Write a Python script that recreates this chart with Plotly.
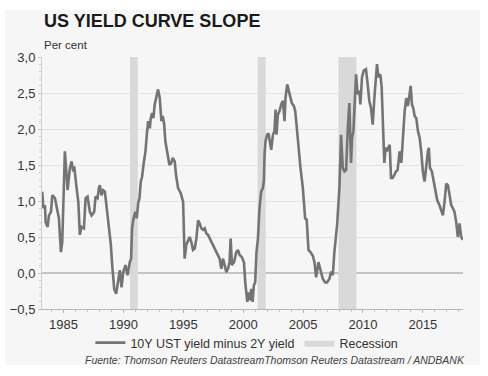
import plotly.graph_objects as go

# ---- data ----
dates = [
    1983.22, 1983.31, 1983.45, 1983.50, 1983.67, 1983.78, 1983.95, 1984.06, 1984.28, 1984.42,
    1984.61, 1984.78, 1984.89, 1985.11, 1985.34, 1985.53, 1985.67, 1985.81, 1985.89, 1986.09,
    1986.23, 1986.36, 1986.50, 1986.70, 1986.84, 1987.00, 1987.20, 1987.34, 1987.56, 1987.67,
    1987.84, 1987.95, 1988.03, 1988.17, 1988.31, 1988.45, 1988.59, 1988.78, 1988.95, 1989.06,
    1989.23, 1989.39, 1989.56, 1989.70, 1989.84, 1989.98, 1990.17, 1990.34, 1990.53, 1990.64,
    1990.72, 1990.84, 1991.00, 1991.11, 1991.23, 1991.34, 1991.45, 1991.56, 1991.67, 1991.84,
    1991.95, 1992.06, 1992.20, 1992.28, 1992.39, 1992.50, 1992.61, 1992.75, 1992.89, 1993.03,
    1993.17, 1993.28, 1993.39, 1993.50, 1993.67, 1993.84, 1994.00, 1994.11, 1994.28, 1994.39,
    1994.56, 1994.78, 1994.98, 1995.11, 1995.25, 1995.39, 1995.53, 1995.67, 1995.81, 1995.95,
    1996.09, 1996.23, 1996.36, 1996.50, 1996.64, 1996.78, 1996.92, 1997.06, 1997.20, 1997.39,
    1997.61, 1997.84, 1998.03, 1998.17, 1998.31, 1998.45, 1998.59, 1998.73, 1998.86, 1998.95,
    1999.06, 1999.23, 1999.42, 1999.56, 1999.70, 1999.89, 2000.06, 2000.17, 2000.34, 2000.45,
    2000.56, 2000.67, 2000.78, 2000.89, 2001.00, 2001.11, 2001.23, 2001.36, 2001.50, 2001.64,
    2001.72, 2001.78, 2001.86, 2002.00, 2002.11, 2002.22, 2002.34, 2002.48, 2002.61, 2002.70,
    2002.78, 2002.89, 2003.03, 2003.17, 2003.31, 2003.45, 2003.53, 2003.67, 2003.81, 2003.95,
    2004.06, 2004.23, 2004.34, 2004.50, 2004.61, 2004.78, 2004.98, 2005.17, 2005.30, 2005.45,
    2005.61, 2005.81, 2005.95, 2006.09, 2006.28, 2006.45, 2006.64, 2006.84, 2007.00, 2007.20,
    2007.34, 2007.48, 2007.61, 2007.84, 2008.03, 2008.17, 2008.31, 2008.45, 2008.59, 2008.73,
    2008.86, 2009.00, 2009.09, 2009.20, 2009.34, 2009.42, 2009.56, 2009.70, 2009.78, 2009.92,
    2010.06, 2010.25, 2010.39, 2010.53, 2010.67, 2010.81, 2010.95, 2011.09, 2011.17, 2011.28,
    2011.45, 2011.56, 2011.67, 2011.78, 2011.89, 2012.00, 2012.11, 2012.23, 2012.34, 2012.48,
    2012.61, 2012.75, 2012.89, 2013.06, 2013.20, 2013.34, 2013.48, 2013.61, 2013.75, 2013.89,
    2013.98, 2014.09, 2014.20, 2014.31, 2014.45, 2014.59, 2014.73, 2014.86, 2015.00, 2015.14,
    2015.28, 2015.42, 2015.50, 2015.59, 2015.75, 2015.92, 2016.03, 2016.20, 2016.39, 2016.53,
    2016.67, 2016.81, 2016.95, 2017.09, 2017.23, 2017.37, 2017.50, 2017.64, 2017.78, 2017.92,
    2018.06, 2018.20, 2018.34,
]
spread = [
    1.13, 0.90, 0.94, 0.71, 0.64, 0.80, 0.85, 1.08, 1.04, 0.90,
    0.76, 0.29, 0.43, 1.69, 1.15, 1.46, 1.55, 1.41, 1.48, 1.18,
    0.99, 0.53, 0.64, 0.62, 1.04, 1.06, 0.85, 0.80, 0.85, 1.06,
    1.04, 1.18, 1.22, 1.08, 1.15, 1.13, 0.94, 0.67, 0.39, 0.11,
    -0.22, -0.29, -0.13, 0.04, -0.20, 0.01, 0.11, -0.03, 0.15, 0.20,
    0.62, 0.76, 0.85, 0.76, 0.97, 1.04, 1.27, 1.34, 1.50, 1.69,
    1.92, 2.11, 2.01, 2.15, 2.22, 2.15, 2.34, 2.43, 2.55, 2.43,
    2.11, 2.18, 2.08, 1.83, 1.69, 1.50, 1.53, 1.60, 1.55, 1.36,
    1.18, 1.11, 0.99, 0.20, 0.39, 0.46, 0.50, 0.43, 0.32, 0.34,
    0.48, 0.73, 0.69, 0.62, 0.60, 0.62, 0.55, 0.53, 0.48, 0.43,
    0.34, 0.25, 0.20, 0.06, 0.20, 0.11, 0.01, 0.06, 0.15, 0.48,
    0.11, 0.15, 0.29, 0.32, 0.25, 0.22, 0.15, -0.13, -0.40, -0.27,
    -0.38, -0.22, -0.40, -0.17, -0.13, 0.29, 0.48, 0.90, 1.13, 1.18,
    1.27, 1.64, 1.83, 1.92, 1.94, 1.83, 1.71, 1.92, 1.97, 2.27,
    1.92, 2.20, 2.25, 2.34, 2.39, 2.11, 2.43, 2.62, 2.53, 2.41,
    2.36, 2.32, 2.25, 1.97, 1.73, 1.46, 1.18, 0.76, 0.74, 0.32,
    0.29, 0.24, 0.15, -0.06, 0.15, 0.02, -0.08, -0.13, -0.13, -0.08,
    0.02, -0.03, 0.29, 0.67, 1.18, 1.92, 1.46, 1.41, 1.43, 2.01,
    2.36, 1.53, 1.88, 1.97, 2.48, 2.76, 2.48, 2.53, 2.34, 2.72,
    2.81, 2.83, 2.62, 2.39, 2.29, 2.06, 2.43, 2.76, 2.90, 2.72,
    2.76, 2.58, 1.92, 1.53, 1.74, 1.69, 1.74, 1.78, 1.32, 1.32,
    1.36, 1.41, 1.43, 1.69, 1.53, 1.92, 2.25, 2.43, 2.32, 2.48,
    2.60, 2.34, 2.29, 2.18, 2.15, 1.97, 1.88, 1.69, 1.41, 1.27,
    1.50, 1.69, 1.74, 1.46, 1.41, 1.27, 1.13, 1.01, 0.94, 0.85,
    0.80, 0.99, 1.24, 1.22, 1.08, 0.94, 0.90, 0.85, 0.71, 0.50,
    0.69, 0.50, 0.46,
]
recession_start = [1990.55, 2001.2, 2007.95]
recession_end = [1991.2, 2001.88, 2009.45]
year_ticks = [1985, 1990, 1995, 2000, 2005, 2010, 2015]
y_ticks = [-0.5, 0.0, 0.5, 1.0, 1.5, 2.0, 2.5, 3.0]

Y_MIN, Y_MAX = -0.5, 3.0
X_MIN, X_MAX = 1983.2, 2018.35
FONT = "Arial, Liberation Sans, sans-serif"

# recession bands as one filled trace
rx, ry = [], []
for s, e in zip(recession_start, recession_end):
    rx += [s, e, e, s, s, None]
    ry += [Y_MIN, Y_MIN, Y_MAX, Y_MAX, Y_MIN, None]

fig = go.Figure()
fig.add_trace(go.Scatter(
    x=rx, y=ry, mode="lines", fill="toself", fillcolor="#d9d9d9",
    line=dict(width=0, color="#d9d9d9"), name="Recession", hoverinfo="skip",
))
fig.add_trace(go.Scatter(
    x=dates, y=spread, mode="lines", name="10Y UST yield minus 2Y yield",
    line=dict(color="#747474", width=2.6),
))

fig.update_layout(
    width=488, height=376,
    margin=dict(l=42, r=25, t=57, b=67, autoexpand=False),
    paper_bgcolor="white", plot_bgcolor="rgba(0,0,0,0)",
    separators=",.",
    font=dict(family=FONT, size=13, color="#333333"),
    legend=dict(
        orientation="h", x=0.115, xanchor="left", y=-0.135, yanchor="middle",
        traceorder="reversed", font=dict(size=12.5, color="#333333"),
        bgcolor="rgba(0,0,0,0)", itemwidth=30,
    ),
    showlegend=True,
    shapes=[dict(
        type="rect", xref="paper", yref="paper",
        x0=-0.088, x1=1.04, y0=-0.222, y1=1.187,
        fillcolor="#f6f6f6", line=dict(width=0), layer="below",
    )],
    annotations=[
        dict(text="<b>US YIELD CURVE SLOPE</b>", xref="paper", yref="paper",
             x=0.0, y=1.141, xanchor="left", yanchor="middle", showarrow=False,
             font=dict(size=18, color="#1a1a1a", family=FONT)),
        dict(text="Per cent", xref="paper", yref="paper",
             x=0.0, y=1.048, xanchor="left", yanchor="middle", showarrow=False,
             font=dict(size=11.5, color="#333333", family=FONT)),
        dict(text="<i>Fuente: Thomson Reuters DatastreamThomson Reuters Datastream / ANDBANK</i>",
             xref="paper", yref="paper", x=0.553, y=-0.202, xanchor="center",
             yanchor="middle", showarrow=False,
             font=dict(size=10.5, color="#444444", family=FONT)),
    ],
)

fig.update_xaxes(
    range=[X_MIN, X_MAX], tickmode="array", tickvals=year_ticks,
    ticktext=[str(y) for y in year_ticks],
    showgrid=False, zeroline=False,
    showline=True, linecolor="#b5b5b5", linewidth=1,
    ticks="outside", ticklen=3, tickcolor="#b5b5b5",
    minor=dict(dtick=1, ticks="outside", ticklen=2, tickcolor="#c5c5c5"),
    tickfont=dict(size=13, color="#333333"), automargin=False,
)
fig.update_yaxes(
    range=[Y_MIN, Y_MAX], tickmode="array", tickvals=y_ticks,
    tickformat=".1f",
    showgrid=True, gridcolor="#e4e4e4", gridwidth=1,
    zeroline=True, zerolinecolor="#c4c4c4", zerolinewidth=1.5,
    showline=True, linecolor="#cfcfcf", linewidth=1,
    ticks="outside", ticklen=3, tickcolor="#c5c5c5",
    minor=dict(dtick=0.1, ticks="outside", ticklen=2, tickcolor="#d0d0d0"),
    tickfont=dict(size=13, color="#333333"), automargin=False,
)

fig.write_html("out.html", config={"displayModeBar": False},
               post_script="document.body.style.margin='0';")
